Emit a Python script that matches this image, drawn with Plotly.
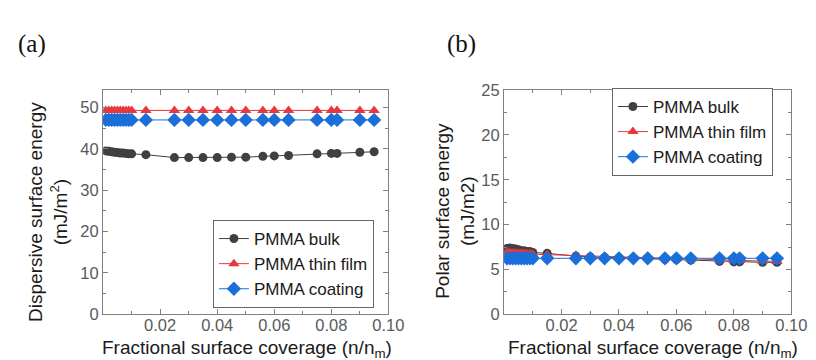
import plotly.graph_objects as go

# ---- data ----
x_vals = [0.001, 0.002, 0.003, 0.004, 0.005, 0.006, 0.007, 0.008, 0.009, 0.010,
          0.015, 0.025, 0.030, 0.035, 0.040, 0.045, 0.050, 0.056, 0.060, 0.065,
          0.075, 0.080, 0.082, 0.090, 0.095]

disp_bulk = [39.5, 39.4, 39.3, 39.2, 39.1, 39.0, 39.0, 38.9, 38.8, 38.8,
             38.6, 37.9, 37.9, 37.9, 37.9, 38.0, 38.0, 38.2, 38.3, 38.4,
             38.8, 38.9, 38.9, 39.2, 39.3]
disp_thin = [49.3] * 25
disp_coat = [47.0] * 25

polar_bulk = [7.35, 7.4, 7.35, 7.3, 7.2, 7.1, 7.1, 7.0, 7.0, 6.9,
              6.8, 6.5, 6.4, 6.35, 6.3, 6.25, 6.2, 6.15, 6.1, 6.05,
              5.9, 5.85, 5.85, 5.8, 5.8]
polar_thin = [6.9, 6.9, 6.85, 6.85, 6.8, 6.8, 6.8, 6.75, 6.75, 6.7,
              6.65, 6.55, 6.5, 6.45, 6.4, 6.35, 6.3, 6.25, 6.2, 6.15,
              6.05, 6.0, 6.0, 5.95, 5.9]
polar_coat = [6.25] * 25

series_names = ["PMMA bulk", "PMMA thin film", "PMMA coating"]
x_ticks = [0.02, 0.04, 0.06, 0.08, 0.10]
x_tick_text = ["0.02", "0.04", "0.06", "0.08", "0.10"]

colors = ["#404040", "#e8383d", "#1a6fd8"]
symbols = ["circle", "triangle-up", "diamond"]
msizes = [9, 10, 11]

fig = go.Figure()

for i, (ys, name) in enumerate(zip([disp_bulk, disp_thin, disp_coat], series_names)):
    fig.add_trace(go.Scatter(x=x_vals, y=ys, name=name, mode="lines+markers",
                             line=dict(color=colors[i], width=1),
                             marker=dict(symbol=symbols[i], size=msizes[i], color=colors[i]),
                             xaxis="x", yaxis="y", legend="legend"))
for i, (ys, name) in enumerate(zip([polar_bulk, polar_thin, polar_coat], series_names)):
    fig.add_trace(go.Scatter(x=x_vals, y=ys, name=name, mode="lines+markers",
                             line=dict(color=colors[i], width=1),
                             marker=dict(symbol=symbols[i], size=msizes[i], color=colors[i]),
                             xaxis="x2", yaxis="y2", legend="legend2"))

axis_common = dict(showline=True, linecolor="#808080", linewidth=1.3, mirror="ticks",
                   ticks="inside", ticklen=5, tickcolor="#808080", showgrid=False,
                   zeroline=False,
                   tickfont=dict(family="Liberation Sans, Arial", size=16.5, color="#5a5a5a"))

xdom1 = [97 / 816, 388 / 816]
xdom2 = [506 / 816, 799 / 816]
ydom = [1 - 313 / 360, 1 - 77 / 360]

fig.update_layout(
    width=816, height=360,
    margin=dict(l=0, r=0, t=0, b=0),
    paper_bgcolor="white", plot_bgcolor="white",
    font=dict(family="Liberation Sans, Arial", color="#1a1a1a"),
    xaxis=dict(domain=xdom1, range=[0, 0.1], tickvals=x_ticks, ticktext=x_tick_text,
               minor=dict(dtick=0.01, ticks="inside", ticklen=3, tickcolor="#808080"),
               anchor="y", ticklabelstandoff=-4, **axis_common),
    yaxis=dict(domain=ydom, range=[0, 54.2], dtick=10,
               minor=dict(dtick=5, ticks="inside", ticklen=3, tickcolor="#808080"),
               anchor="x", **axis_common),
    xaxis2=dict(domain=xdom2, range=[0, 0.1], tickvals=x_ticks, ticktext=x_tick_text,
                minor=dict(dtick=0.01, ticks="inside", ticklen=3, tickcolor="#808080"),
                anchor="y2", ticklabelstandoff=-4, **axis_common),
    yaxis2=dict(domain=ydom, range=[0, 25], dtick=5,
                minor=dict(dtick=2.5, ticks="inside", ticklen=3, tickcolor="#808080"),
                anchor="x2", **axis_common),
    legend=dict(x=209 / 816, y=1 - 260 / 360, xanchor="left", yanchor="middle",
                bgcolor="white", bordercolor="#666666", borderwidth=1,
                font=dict(size=17, color="#1a1a1a"), tracegroupgap=0),
    legend2=dict(x=616 / 816, y=1 - 121 / 360, xanchor="left", yanchor="middle",
                 bgcolor="white", bordercolor="#666666", borderwidth=1,
                 font=dict(size=17, color="#1a1a1a"), tracegroupgap=0),
    showlegend=True,
)

ann = []
ann.append(dict(text="(a)", x=8 / 816, y=1 - 28 / 360, xref="paper", yref="paper",
                xanchor="left", yanchor="middle", showarrow=False,
                font=dict(family="Liberation Serif, Times New Roman", size=25, color="#111")))
ann.append(dict(text="(b)", x=446 / 816, y=1 - 28 / 360, xref="paper", yref="paper",
                xanchor="left", yanchor="middle", showarrow=False,
                font=dict(family="Liberation Serif, Times New Roman", size=25, color="#111")))
ann.append(dict(text="Dispersive surface energy<br>(mJ/m<sup>2</sup>)", x=41 / 816, y=1 - 205 / 360,
                xref="paper", yref="paper", textangle=-90, showarrow=False,
                xanchor="center", yanchor="middle",
                font=dict(size=19, color="#1a1a1a")))
ann.append(dict(text="Polar surface energy<br>(mJ/m2)", x=456 / 816, y=1 - 204 / 360,
                xref="paper", yref="paper", textangle=-90, showarrow=False,
                xanchor="center", yanchor="middle",
                font=dict(size=19, color="#1a1a1a")))
ann.append(dict(text="Fractional surface coverage (n/n<sub>m</sub>)", x=244 / 816,
                y=1 - 349 / 360, xref="paper", yref="paper", showarrow=False,
                xanchor="center", yanchor="middle", font=dict(size=19, color="#1a1a1a")))
ann.append(dict(text="Fractional surface coverage (n/n<sub>m</sub>)", x=658 / 816,
                y=1 - 349 / 360, xref="paper", yref="paper", showarrow=False,
                xanchor="center", yanchor="middle", font=dict(size=19, color="#1a1a1a")))
fig.update_layout(annotations=ann)

fig.write_html("out.html")
